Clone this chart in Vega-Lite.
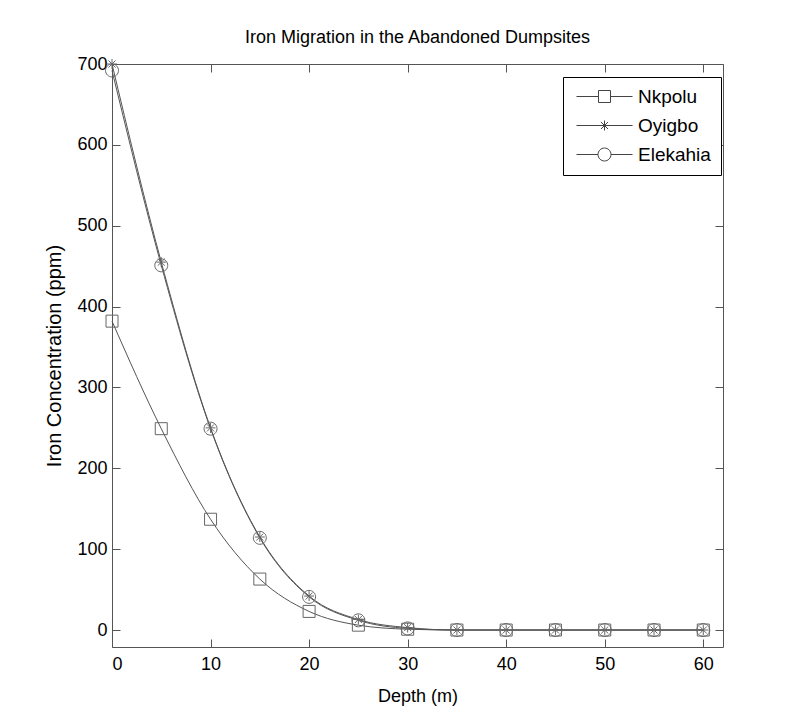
{
  "$schema": "https://vega.github.io/schema/vega-lite/v6.json",
  "width": 611,
  "height": 583,
  "autosize": {"type": "none"},
  "padding": {"left": 112, "top": 64, "right": 64, "bottom": 76},
  "background": "white",
  "title": {
    "text": "Iron Migration in the Abandoned Dumpsites",
    "font": "Liberation Sans",
    "fontSize": 18,
    "fontWeight": "normal",
    "color": "black",
    "anchor": "middle",
    "offset": 8
  },
  "config": {
    "view": {"stroke": null},
    "axis": {
      "grid": false,
      "domainColor": "#555555",
      "tickColor": "#555555",
      "tickSize": -8,
      "labelFont": "Liberation Sans",
      "labelFontSize": 18,
      "labelColor": "black",
      "titleFont": "Liberation Sans",
      "titleFontSize": 18,
      "titleFontWeight": "normal",
      "titleColor": "black"
    }
  },
  "data": {
    "values": [
      {"depth": 0, "site": "Nkpolu", "conc": 382},
      {"depth": 5, "site": "Nkpolu", "conc": 249},
      {"depth": 10, "site": "Nkpolu", "conc": 137},
      {"depth": 15, "site": "Nkpolu", "conc": 63},
      {"depth": 20, "site": "Nkpolu", "conc": 23},
      {"depth": 25, "site": "Nkpolu", "conc": 6},
      {"depth": 30, "site": "Nkpolu", "conc": 1},
      {"depth": 35, "site": "Nkpolu", "conc": 0},
      {"depth": 40, "site": "Nkpolu", "conc": 0},
      {"depth": 45, "site": "Nkpolu", "conc": 0},
      {"depth": 50, "site": "Nkpolu", "conc": 0},
      {"depth": 55, "site": "Nkpolu", "conc": 0},
      {"depth": 60, "site": "Nkpolu", "conc": 0},
      {"depth": 0, "site": "Oyigbo", "conc": 700},
      {"depth": 5, "site": "Oyigbo", "conc": 455},
      {"depth": 10, "site": "Oyigbo", "conc": 250},
      {"depth": 15, "site": "Oyigbo", "conc": 115},
      {"depth": 20, "site": "Oyigbo", "conc": 42},
      {"depth": 25, "site": "Oyigbo", "conc": 13},
      {"depth": 30, "site": "Oyigbo", "conc": 3},
      {"depth": 35, "site": "Oyigbo", "conc": 0},
      {"depth": 40, "site": "Oyigbo", "conc": 0},
      {"depth": 45, "site": "Oyigbo", "conc": 0},
      {"depth": 50, "site": "Oyigbo", "conc": 0},
      {"depth": 55, "site": "Oyigbo", "conc": 0},
      {"depth": 60, "site": "Oyigbo", "conc": 0},
      {"depth": 0, "site": "Elekahia", "conc": 692},
      {"depth": 5, "site": "Elekahia", "conc": 451},
      {"depth": 10, "site": "Elekahia", "conc": 249},
      {"depth": 15, "site": "Elekahia", "conc": 114},
      {"depth": 20, "site": "Elekahia", "conc": 41},
      {"depth": 25, "site": "Elekahia", "conc": 12},
      {"depth": 30, "site": "Elekahia", "conc": 2},
      {"depth": 35, "site": "Elekahia", "conc": 0},
      {"depth": 40, "site": "Elekahia", "conc": 0},
      {"depth": 45, "site": "Elekahia", "conc": 0},
      {"depth": 50, "site": "Elekahia", "conc": 0},
      {"depth": 55, "site": "Elekahia", "conc": 0},
      {"depth": 60, "site": "Elekahia", "conc": 0}
    ]
  },
  "layer": [
    {
      "mark": {"type": "line", "interpolate": "monotone", "stroke": "#555555", "strokeWidth": 1},
      "encoding": {
        "x": {
          "field": "depth", "type": "quantitative",
          "scale": {"domain": [0, 62], "nice": false, "zero": false},
          "axis": {"orient": "bottom", "values": [0, 10, 20, 30, 40, 50, 60], "title": "Depth (m)", "labelPadding": 16, "titlePadding": 14}
        },
        "y": {
          "field": "conc", "type": "quantitative",
          "scale": {"domain": [-21, 700], "nice": false, "zero": false},
          "axis": {"orient": "left", "values": [0, 100, 200, 300, 400, 500, 600, 700], "title": "Iron Concentration (ppm)", "labelPadding": 13, "titlePadding": 12, "titleFontSize": 20}
        },
        "detail": {"field": "site"}
      }
    },
    {
      "mark": {"type": "point", "filled": false, "color": "#666666", "strokeWidth": 1, "size": 144, "opacity": 1},
      "encoding": {
        "x": {
          "field": "depth", "type": "quantitative",
          "axis": {"orient": "top", "values": [0, 10, 20, 30, 40, 50, 60], "labels": false, "title": null}
        },
        "y": {
          "field": "conc", "type": "quantitative",
          "axis": {"orient": "right", "values": [0, 100, 200, 300, 400, 500, 600, 700], "labels": false, "title": null}
        },
        "shape": {
          "field": "site", "type": "nominal",
          "scale": {
            "domain": ["Nkpolu", "Oyigbo", "Elekahia"],
            "range": [
              "M-1,-1H1V1H-1Z",
              "M-0.83,0H0.83M0,-0.83V0.83M-0.59,-0.59L0.59,0.59M-0.59,0.59L0.59,-0.59",
              "M-1.08,0A1.08,1.08,0,1,1,1.08,0A1.08,1.08,0,1,1,-1.08,0Z"
            ]
          },
          "legend": null
        }
      }
    },
    {
      "mark": {"type": "point", "filled": false, "color": "#444444", "strokeWidth": 1, "size": 144, "opacity": 0},
      "encoding": {
        "x": {"field": "depth", "type": "quantitative", "axis": null},
        "y": {"field": "conc", "type": "quantitative", "axis": null},
        "shape": {
          "field": "site", "type": "nominal",
          "scale": {
            "domain": ["Nkpolu", "Oyigbo", "Elekahia"],
            "range": [
              "M-4.67,0H-1M1,0H4.67M-1,-1H1V1H-1Z",
              "M-4.67,0H4.67M0,-0.83V0.83M-0.59,-0.59L0.59,0.59M-0.59,0.59L0.59,-0.59",
              "M-4.67,0H-1.08M1.08,0H4.67M-1.08,0A1.08,1.08,0,1,1,1.08,0A1.08,1.08,0,1,1,-1.08,0"
            ]
          },
          "legend": {
            "title": null,
            "orient": "none",
            "legendX": 451,
            "legendY": 13,
            "padding": 10,
            "strokeColor": "black",
            "fillColor": "white",
            "symbolSize": 144,
            "symbolOffset": 22,
            "labelOffset": 24,
            "rowPadding": 9,
            "symbolOpacity": 1,
            "symbolStrokeColor": "#444444",
            "symbolFillColor": "transparent",
            "symbolStrokeWidth": 1,
            "labelFont": "Liberation Sans",
            "labelFontSize": 19,
            "labelColor": "black"
          }
        }
      }
    }
  ],
  "resolve": {"scale": {"shape": "independent"}}
}
